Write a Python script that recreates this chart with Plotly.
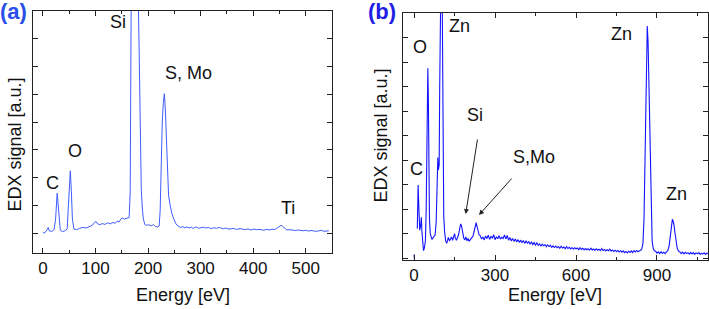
import plotly.graph_objects as go

# ---------------- Panel (a) data ----------------
energy_a = [0, 4, 8, 10, 12, 17, 21, 24, 27, 30, 33, 37, 42, 46, 48, 50, 52, 54, 56, 59,
            64, 70, 76, 82, 88, 94, 98, 101, 104, 108, 113, 118, 123, 128, 133, 137, 141, 145,
            148, 151, 155, 160, 164, 166, 167, 168, 172, 178, 181, 183, 185, 187, 189, 191, 194,
            197, 201, 206, 210, 214, 218, 221, 223, 225, 227, 229, 231, 233, 235, 237, 239, 242,
            245, 249, 253, 257, 262, 266, 270, 274, 278, 282, 285, 289, 292, 296, 300, 305, 310,
            315, 320, 325, 330, 336, 343, 347, 350, 356, 362, 368, 375, 380, 385, 390, 395, 401,
            407, 413, 420, 426, 432, 436, 440, 444, 447, 450, 453, 456, 458, 461, 464, 470, 475,
            480, 485, 490, 495, 500, 505, 510, 515, 520, 525, 530, 535, 538, 540, 544, 547]
signal_a = [0.0, 0.02, 0.12, 0.2, 0.08, 0.06, 0.12, 0.5, 1.43, 0.6, 0.1, 0.05, 0.08, 0.15, 0.8,
            1.9, 2.24, 1.5, 0.5, 0.14,
            0.12, 0.17, 0.2, 0.18, 0.24, 0.28, 0.38, 0.42, 0.33, 0.3, 0.34, 0.31, 0.37, 0.33, 0.38,
            0.35, 0.42, 0.4,
            0.5, 0.54, 0.5, 0.53, 0.56, 1.5, 5.0, 9.0, 12.0, 12.0, 9.0, 6.0, 3.0, 1.6, 0.9, 0.5, 0.3,
            0.28, 0.3, 0.26, 0.3, 0.24, 0.22, 0.25, 0.8, 2.8, 4.0, 4.7, 5.02, 4.4, 3.3, 2.1, 1.35, 1.0,
            0.72, 0.5, 0.33, 0.25, 0.2, 0.23, 0.19, 0.22, 0.18, 0.21, 0.17, 0.2, 0.22, 0.17, 0.19,
            0.21, 0.18,
            0.2, 0.16, 0.19, 0.17, 0.2, 0.15, 0.18, 0.16, 0.14, 0.17, 0.13, 0.16, 0.14, 0.12, 0.15,
            0.11, 0.14, 0.12, 0.13, 0.1, 0.13, 0.11, 0.14, 0.12, 0.16, 0.2, 0.25, 0.28, 0.24, 0.2,
            0.15, 0.11, 0.12, 0.1, 0.09, 0.11, 0.1, 0.08, 0.1, 0.07, 0.09, 0.08, 0.06, 0.08, 0.1, 0.06,
            0.07, 0.09, 0.08]

# ---------------- Panel (b) data ----------------
energy_b = [0, 1, None,
            12, 15, 18, 21, 24, 27, 29, 32, 35, 38, 42, 45, 48, 51, 53, 55, 57, 60, 63, 66, 70, 74,
            78, 82, 85, 88, 90, 93, 95, 97, 100, 104, 106, 108, 110, 113, 117, 121, 124, 127, 131,
            135, 139, 143, 147, 150, 153, 157, 161, 165, 169, 173, 176, 180, 184, 188, 192, 196, 200,
            204, 208, 213, 218, 222, 226, 230, 233, 237, 241,
            245, 250, 255, 260, 265, 270, 275, 280, 285, 290, 295, 300, 305, 310, 315, 320, 325, 330,
            335, 340, 345, 350, 355, 360, 365, 370, 375, 380, 385, 390, 395, 400, 405, 410, 415, 420,
            425, 430, 435, 440, 445, 450, 455, 460, 465, 470, 475, 480, 485, 490, 495, 500, 505, 510,
            515, 520, 525, 530, 535, 540, 545, 550, 555, 560, 565, 570, 575, 580, 585, 590, 595, 600,
            605, 610, 615, 620, 625, 630, 635, 640, 645, 650, 655, 660, 665, 670, 675, 680, 685, 690,
            695, 700, 705, 710, 715, 720, 725, 730, 735, 740, 745, 750, 755, 760, 765, 770, 775, 780,
            785, 790, 795, 800, 805, 810, 815, 820, 825, 830, 835, 840,
            844, 848, 852, 855, 858, 861, 864, 867, 870, 873, 876, 879, 882, 886, 890,
            895, 900, 905, 910, 915, 920, 925, 930, 935, 940, 945, 949, 953, 957,
            960, 963, 967, 971, 975, 980, 985, 990, 995, 1000, 1005, 1010, 1015, 1020, 1025, 1030,
            1035, 1040, 1045, 1050, 1055, 1060, 1065, 1070, 1075, 1080, 1085, 1090]
signal_b = [0.15, -0.04, None,
            1.2, 2.98, 2.0, 1.14, 1.3, 1.66, 1.1, 0.5, 0.3, 0.4, 0.7, 2.0, 5.0, 7.74, 6.5, 3.5, 1.6,
            1.0, 0.8, 0.76, 0.82, 0.87,
            0.95, 1.5, 3.0, 4.1, 3.6, 3.8, 7.0, 11.0, 12.0, 11.0, 7.0, 3.0, 1.7, 1.1, 0.7, 0.6, 0.8,
            0.84, 0.7,
            0.78, 0.86, 0.72, 0.95, 1.0, 0.82, 0.72, 0.84, 0.95, 1.2, 1.39, 1.3, 1.0, 0.82, 0.74, 0.86,
            0.7, 0.8,
            0.68, 0.76, 0.82, 0.88, 1.05, 1.3, 1.44, 1.3, 1.1, 0.95,
            0.92, 0.78, 0.86, 0.74, 0.9, 0.8, 0.93, 0.76, 0.88, 0.82, 0.95, 0.75, 0.87, 0.79, 0.91,
            0.77, 0.85, 0.8,
            0.94, 0.78, 0.92, 0.73, 0.84, 0.7, 0.8, 0.68, 0.78, 0.66, 0.75, 0.64, 0.73, 0.62, 0.72,
            0.6, 0.69, 0.61,
            0.67, 0.56, 0.66, 0.55, 0.63, 0.53, 0.62, 0.52, 0.58, 0.49, 0.57, 0.5, 0.55, 0.46, 0.54,
            0.47, 0.52, 0.44,
            0.5, 0.43, 0.49, 0.42, 0.47, 0.4, 0.48, 0.41, 0.45, 0.38, 0.46, 0.39, 0.44, 0.37, 0.43,
            0.36, 0.42, 0.38,
            0.41, 0.34, 0.42, 0.35, 0.4, 0.33, 0.39, 0.34, 0.38, 0.32, 0.4, 0.33, 0.37, 0.31, 0.38,
            0.32, 0.36, 0.3,
            0.39, 0.31, 0.35, 0.29, 0.34, 0.3, 0.36, 0.28, 0.33, 0.27, 0.32, 0.26, 0.31, 0.25, 0.3,
            0.24, 0.29, 0.22,
            0.27, 0.21, 0.28, 0.23, 0.29, 0.22, 0.3, 0.25, 0.31, 0.26, 0.3, 0.32,
            0.38, 0.6, 1.6, 3.5, 6.0, 8.2, 9.47, 8.8, 7.2, 5.0, 2.8, 1.3, 0.7, 0.4, 0.3,
            0.28, 0.2, 0.25, 0.18, 0.26, 0.19, 0.24, 0.18, 0.25, 0.3, 0.5, 0.9, 1.35, 1.58,
            1.5, 1.35, 1.0, 0.65, 0.4, 0.28, 0.25, 0.18, 0.24, 0.17, 0.23, 0.18, 0.22, 0.16, 0.23,
            0.17,
            0.22, 0.15, 0.21, 0.17, 0.22, 0.15, 0.2, 0.16, 0.21, 0.15, 0.2, 0.17]

x_ticks_a = [0, 100, 200, 300, 400, 500]
x_ticks_b = [0, 300, 600, 900]
peak_labels_a = ["Si", "S, Mo", "O", "C", "Ti"]
peak_labels_b = ["O", "Zn", "Zn", "Si", "S,Mo", "C", "Zn"]

W, H = 709, 309
FONT = "Liberation Sans, Arial, sans-serif"


def px(x):
    return x / W


def py(y):
    return 1 - y / H


fig = go.Figure()
fig.add_trace(go.Scatter(x=energy_a, y=signal_a, mode="lines",
                         line=dict(color="#3f5dff", width=1), xaxis="x", yaxis="y",
                         showlegend=False, hoverinfo="skip"))
fig.add_trace(go.Scatter(x=energy_b, y=signal_b, mode="lines", connectgaps=False,
                         line=dict(color="#1414ff", width=1.1), xaxis="x2", yaxis="y2",
                         showlegend=False, hoverinfo="skip"))

axis_common = dict(showline=True, linecolor="#222", linewidth=1, mirror="ticks",
                   ticks="inside", ticklen=5, tickcolor="#222", showgrid=False, zeroline=False)

fig.update_layout(
    width=W, height=H, margin=dict(l=0, r=0, t=0, b=0),
    paper_bgcolor="white", plot_bgcolor="white",
    font=dict(family=FONT, color="#111"),
    xaxis=dict(domain=[px(33), px(332)], range=[-19, 550], tickvals=x_ticks_a,
               minor=dict(dtick=50, tick0=0, ticks="inside", ticklen=3, tickcolor="#222"),
               tickfont=dict(family=FONT, size=17, color="#111"),
               anchor="y", **axis_common),
    yaxis=dict(domain=[py(253), py(11)], range=[-0.72, 8.0], dtick=1, tick0=0,
               showticklabels=False, anchor="x", **axis_common),
    xaxis2=dict(domain=[px(403), px(708)], range=[-41, 1089], tickvals=x_ticks_b,
                minor=dict(dtick=150, tick0=0, ticks="inside", ticklen=3, tickcolor="#222"),
                tickfont=dict(family=FONT, size=17, color="#111"),
                anchor="y2", **axis_common),
    yaxis2=dict(domain=[py(260), py(13)], range=[-0.08, 10.0], dtick=1, tick0=0,
                showticklabels=False, anchor="x2", **axis_common),
)

ann = []


def text(x, y, s, size=18, color="#111", bold=False, angle=0):
    ann.append(dict(x=px(x), y=py(y), xref="paper", yref="paper", text=("<b>%s</b>" % s) if bold else s,
                    showarrow=False, xanchor="center", yanchor="middle", textangle=angle,
                    font=dict(family=FONT, size=size, color=color)))


# panel labels
text(13.5, 12, "(a)", size=22, color="#2a4fe8", bold=True)
text(382, 12, "(b)", size=22, color="#1f1fe6", bold=True)

# axis titles
text(14.5, 145, "EDX signal [a.u.]", size=18, angle=-90)
text(380.5, 136, "EDX signal [a.u.]", size=18, angle=-90)
text(183, 295, "Energy [eV]", size=18)
text(555, 295, "Energy [eV]", size=18)

# peak labels (a)
pos_a = [(118, 22), (189, 73), (75, 151), (52.5, 183), (288, 207.5)]
for (x, y), s in zip(pos_a, peak_labels_a):
    text(x, y, s)

# peak labels (b)
pos_b = [(420, 47), (459, 26), (621, 34), (475, 115), (534, 157), (416, 168.5), (676, 193.5)]
for (x, y), s in zip(pos_b, peak_labels_b):
    text(x, y, s)

# arrows
ann.append(dict(x=px(465.7), y=py(214), xref="paper", yref="paper", showarrow=True,
                ax=12, ay=-76, arrowhead=2, arrowsize=1, arrowwidth=1, arrowcolor="#222", text=""))
ann.append(dict(x=px(479), y=py(215), xref="paper", yref="paper", showarrow=True,
                ax=34, ay=-38, arrowhead=2, arrowsize=1, arrowwidth=1, arrowcolor="#222", text=""))

fig.update_layout(annotations=ann)
fig.write_html("out.html", config={"displayModeBar": False},
               post_script="document.body.style.margin='0';document.body.style.overflow='hidden';")
